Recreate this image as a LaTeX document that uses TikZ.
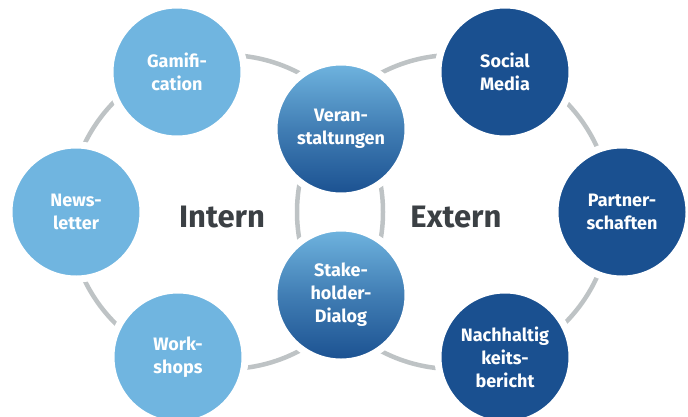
\documentclass[tikz,border=0pt]{standalone}
\usepackage{fontspec}
\setmainfont{Fira Sans}
\definecolor{lightblue}{HTML}{70B5E0}
\definecolor{darkblue}{HTML}{1A5090}
\definecolor{ringgray}{HTML}{BEC3C5}
\definecolor{labelgray}{HTML}{3B4044}
\tikzset{
  bubble/.style={circle, minimum size=134pt, inner sep=0pt, draw=white, line width=7pt,
    text=white, align=center, font=\fontsize{18}{23}\selectfont\bfseries},
  intbubble/.style={bubble, fill=lightblue},
  extbubble/.style={bubble, fill=darkblue},
  midbubble/.style={bubble, top color=lightblue, bottom color=darkblue, middle color=lightblue!45!darkblue},
  ring/.style={draw=ringgray, line width=4.5pt},
  sidelabel/.style={text=labelgray, font=\fontsize{31}{36}\selectfont\bfseries}
}
\begin{document}
\begin{tikzpicture}[x=1pt,y=-1pt]
\useasboundingbox (0,0) rectangle (688,416);
\clip (0,0) rectangle (688,416);
\coordinate (lc) at (226,212);
\coordinate (rc) at (454,212);
\draw[ring] (lc) circle[radius=157];
\draw[ring] (rc) circle[radius=157];
\node[intbubble] (gam) at (177,72) {Gamifi-\\cation};
\node[intbubble] (news) at (76,212) {News-\\letter};
\node[intbubble] (work) at (178,357) {Work-\\shops};
\node[extbubble] (soc) at (505,72) {Social\\Media};
\node[extbubble] (part) at (622,212) {Partner-\\schaften};
\node[extbubble] (nach) at (505,357) {Nachhaltig\\keits-\\bericht};
\node[midbubble] (ver) at (341,129) {Veran-\\staltungen};
\node[midbubble] (stake) at (341,295) {Stake-\\holder-\\Dialog};
\node[sidelabel] (int) at (222,217) {Intern};
\node[sidelabel] (ext) at (456,217) {Extern};
\end{tikzpicture}
\end{document}
